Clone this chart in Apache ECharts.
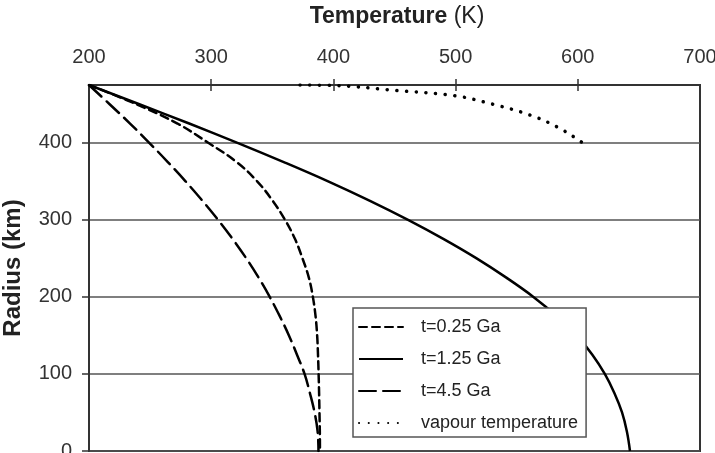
<!DOCTYPE html>
<html>
<head>
<meta charset="utf-8">
<script src="https://cdn.jsdelivr.net/npm/echarts@6/dist/echarts.min.js"></script>
<style>
  html, body { margin: 0; padding: 0; background: #fff; }
  #chart { width: 715px; height: 453px; }
</style>
</head>
<body>
<div id="chart"></div>
<script>
// temperature (K) vs radius (km)
const tempInnerTicks = [300, 400, 500, 600]
const radiusTicks = [0, 100, 200, 300, 400]
const seriesNames = ["t=0.25 Ga", "t=1.25 Ga", "t=4.5 Ga", "vapour temperature"]

const t025 = [[200, 475], [238.9, 450], [272.4, 425], [297.6, 400], [320.8, 375], [337.6, 350], [350.2, 325], [360.4, 300], [368.6, 275], [374.7, 250], [379.9, 225], [383.2, 200], [385.4, 175], [386.7, 150], [387.4, 125], [387.9, 100], [388.3, 75], [388.6, 50], [388.9, 25], [389, 0]]
const t125 = [[200, 475], [241.2, 450], [282, 425], [321.5, 400], [359.4, 375], [395.7, 350], [429.5, 325], [461.1, 300], [490.3, 275], [517.2, 250], [541.5, 225], [563.7, 200], [582.8, 175], [599, 150], [611.9, 125], [622.1, 100], [630, 75], [636.2, 50], [640.2, 25], [642.7, 0]]
const t45 = [[200, 475], [216.9, 450], [233.6, 425], [249.3, 400], [264.5, 375], [279, 350], [292.7, 325], [305.6, 300], [317.6, 275], [328.7, 250], [338.8, 225], [347.9, 200], [356.1, 175], [363.6, 150], [370.2, 125], [376.4, 100], [380.8, 75], [384.6, 50], [387.1, 25], [387.8, 0]]
const vapour = [[372.7, 475], [400, 474.4], [452, 467.8], [499.5, 461], [530.6, 450], [560.9, 436], [583, 420.6], [603, 401], [608.6, 393.4]]

const font = "Liberation Sans, Arial, sans-serif"
const chart = echarts.init(document.getElementById("chart"))

const lineSeries = (name, data, type, width) => ({
  name,
  type: "line",
  data,
  symbol: "none",
  smooth: 0.4,
  z: 5,
  lineStyle: { color: "#000", width: width || 2.5, type, cap: type === "solid" ? "butt" : "round" }
})

chart.setOption({
  animation: false,
  backgroundColor: "#fff",
  title: {
    text: "{b|Temperature} (K)",
    left: 392,
    textAlign: "center",
    top: 0,
    textStyle: {
      fontFamily: font, fontSize: 23, fontWeight: "normal", color: "#222",
      rich: { b: { fontFamily: font, fontSize: 23, fontWeight: "bold", color: "#222" } }
    }
  },
  grid: {
    left: 89, right: 15, top: 85, bottom: 2,
    outerBoundsMode: "none",
    show: true, borderColor: "#333", borderWidth: 2, backgroundColor: "transparent"
  },
  legend: {
    orient: "vertical",
    left: 353,
    top: 308,
    data: seriesNames,
    itemWidth: 44,
    itemHeight: 14,
    itemGap: 14,
    padding: [10, 8, 5, 5],
    backgroundColor: "#fff",
    borderColor: "#555",
    borderWidth: 1.5,
    itemStyle: { color: "transparent", borderWidth: 0 },
    textStyle: { fontFamily: font, fontSize: 18, color: "#222", padding: [0, 0, 0, 13] },
    z: 10
  },
  // ticks cross the top frame: axis shifted 6px inside, ticks 12px long
  xAxis: {
    type: "value",
    position: "top",
    offset: -6,
    min: 200, max: 700, interval: 100,
    axisLine: { show: false, onZero: false },
    axisTick: { show: true, length: 12, inside: false, customValues: tempInnerTicks, lineStyle: { color: "#333", width: 1.5 } },
    axisLabel: { margin: 24, fontFamily: font, fontSize: 20, color: "#333" },
    splitLine: { show: false }
  },
  yAxis: {
    type: "value",
    min: 0, max: 475, interval: 100,
    name: "Radius (km)",
    nameLocation: "middle",
    nameGap: 64,
    nameTextStyle: { fontFamily: font, fontSize: 24, fontWeight: "bold", color: "#222" },
    axisLine: { show: true, onZero: false, lineStyle: { color: "#333", width: 2 } },
    axisTick: { show: true, length: 7, customValues: radiusTicks, lineStyle: { color: "#333", width: 1.5 } },
    axisLabel: { customValues: radiusTicks, margin: 17, fontFamily: font, fontSize: 20, color: "#333" },
    splitLine: { show: true, lineStyle: { color: "#555", width: 1.5 } }
  },
  series: [
    lineSeries(seriesNames[0], t025, [8, 5]),
    lineSeries(seriesNames[1], t125, "solid"),
    lineSeries(seriesNames[2], t45, [17, 7]),
    lineSeries(seriesNames[3], vapour, [0.1, 9.6], 3.5)
  ]
})
</script>
</body>
</html>
